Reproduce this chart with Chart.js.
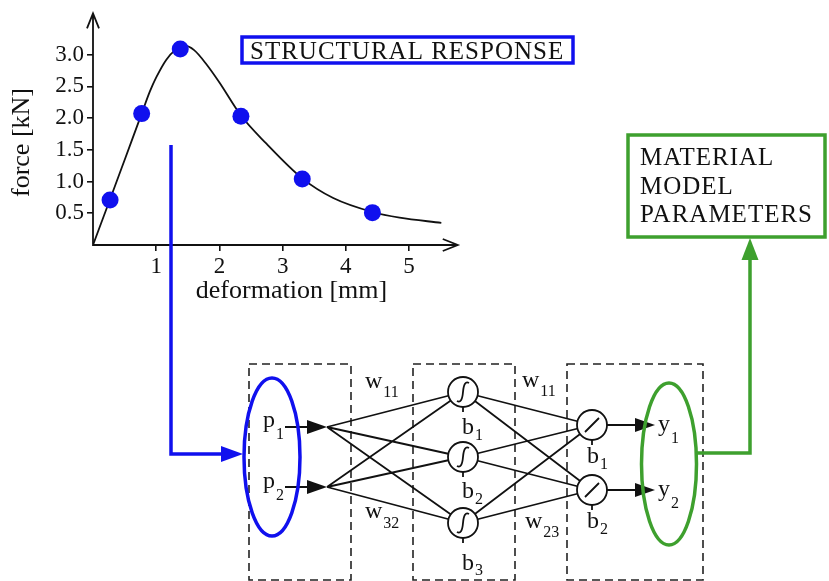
<!DOCTYPE html>
<html>
<head>
<meta charset="utf-8">
<script src="https://cdn.jsdelivr.net/npm/chart.js@4.4.1/dist/chart.umd.min.js"></script>
<style>
  html, body { margin: 0; padding: 0; background: #fff; }
  canvas { display: block; }
</style>
</head>
<body>
<canvas id="myChart" width="829" height="581"></canvas>
<script>
// measured response: deformation [mm] / force [kN]
var pointX = [0.27, 0.77, 1.38, 2.34, 3.31, 4.42];
var pointY = [0.71, 2.07, 3.09, 2.03, 1.04, 0.51];

// curve drawn through the measurements
var curveX = [0, 0.27, 0.5, 0.77, 0.9, 1.0, 1.16, 1.3, 1.45, 1.6, 1.8, 2.0, 2.34, 2.74, 3.31, 3.8, 4.42, 4.85, 5.51];
var curveY = [0, 0.72, 1.34, 2.07, 2.42, 2.64, 2.92, 3.07, 3.14, 3.07, 2.84, 2.56, 2.04, 1.6, 1.05, 0.74, 0.52, 0.43, 0.35];

var tickX = [1, 2, 3, 4, 5];
var tickY = [0.5, 1.0, 1.5, 2.0, 2.5, 3.0];

// where the axis arrows end (data units)
var xAxisEnd = 5.77;
var yAxisEnd = 3.65;

var SERIF = "'Liberation Serif', 'Times New Roman', serif";
var BLUE = '#1010ee';
var GREEN = '#3ea02e';
var INK = '#111';

Chart.defaults.font.family = SERIF;
Chart.defaults.color = INK;

function arrowHead(ctx, x, y, ux, uy, len, half, color) {
    var bx = x - ux * len, by = y - uy * len;
    ctx.beginPath();
    ctx.moveTo(x, y);
    ctx.lineTo(bx - uy * half, by + ux * half);
    ctx.lineTo(bx + uy * half, by - ux * half);
    ctx.closePath();
    ctx.fillStyle = color;
    ctx.fill();
}

function subLabel(ctx, main, sub, x, y, subDy) {
    ctx.font = '24px ' + SERIF;
    ctx.fillText(main, x, y);
    var w = ctx.measureText(main).width;
    ctx.font = '16px ' + SERIF;
    ctx.fillText(sub, x + w + 1, y + subDy);
}

var whiteBg = {
    id: 'whiteBg',
    beforeDraw: function (chart) {
        var ctx = chart.ctx;
        ctx.save();
        ctx.fillStyle = '#fff';
        ctx.fillRect(0, 0, chart.width, chart.height);
        ctx.restore();
    }
};

var axesArrows = {
    id: 'axesArrows',
    beforeDatasetsDraw: function (chart) {
        var sx = chart.scales.x, sy = chart.scales.y, ctx = chart.ctx;
        var x0 = sx.getPixelForValue(0), y0 = sy.getPixelForValue(0);
        var xEnd = sx.getPixelForValue(xAxisEnd), yEnd = sy.getPixelForValue(yAxisEnd);
        ctx.save();
        ctx.strokeStyle = INK;
        ctx.lineWidth = 1.8;
        ctx.beginPath();
        ctx.moveTo(x0, yEnd);
        ctx.lineTo(x0, y0);
        ctx.lineTo(xEnd, y0);
        ctx.moveTo(x0 - 6, yEnd + 15);
        ctx.lineTo(x0, yEnd);
        ctx.lineTo(x0 + 6, yEnd + 15);
        ctx.moveTo(xEnd - 15, y0 - 6);
        ctx.lineTo(xEnd, y0);
        ctx.lineTo(xEnd - 15, y0 + 6);
        ctx.stroke();
        ctx.restore();
    }
};

// the neural network sketch around the plot
var network = {
    id: 'network',
    afterDraw: function (chart) {
        var ctx = chart.ctx;
        var inY = [427, 487], inTip = 327;
        var hidX = 463, hidY = [392, 457, 523];
        var outX = 592, outY = [425, 490];
        var r = 15;
        ctx.save();
        ctx.textAlign = 'left';
        ctx.textBaseline = 'alphabetic';

        // structural response box
        ctx.strokeStyle = BLUE;
        ctx.lineWidth = 3.5;
        ctx.strokeRect(242, 37, 331, 26);
        ctx.fillStyle = INK;
        ctx.font = '25px ' + SERIF;
        ctx.letterSpacing = '1px';
        ctx.fillText('STRUCTURAL RESPONSE', 250, 59);

        // material model parameters box
        ctx.strokeStyle = GREEN;
        ctx.lineWidth = 3.5;
        ctx.strokeRect(628, 135, 197, 102);
        ctx.fillText('MATERIAL', 640, 165);
        ctx.fillText('MODEL', 640, 194);
        ctx.fillText('PARAMETERS', 640, 222);
        ctx.letterSpacing = '0px';

        // blue connector plot -> inputs
        ctx.strokeStyle = BLUE;
        ctx.lineWidth = 3.5;
        ctx.beginPath();
        ctx.moveTo(171, 145);
        ctx.lineTo(171, 454);
        ctx.lineTo(224, 454);
        ctx.stroke();
        arrowHead(ctx, 243, 454, 1, 0, 22, 8, BLUE);

        // dashed layer boxes
        ctx.strokeStyle = '#222';
        ctx.lineWidth = 1.6;
        ctx.setLineDash([8, 5]);
        ctx.strokeRect(249, 364, 102, 216);
        ctx.strokeRect(413, 364, 102, 216);
        ctx.strokeRect(567, 364, 136, 216);
        ctx.setLineDash([]);

        // connections
        ctx.strokeStyle = INK;
        ctx.lineWidth = 1.8;
        ctx.beginPath();
        inY.forEach(function (y) {
            hidY.forEach(function (h) {
                ctx.moveTo(inTip, y);
                ctx.lineTo(hidX, h);
            });
        });
        hidY.forEach(function (h) {
            outY.forEach(function (o) {
                ctx.moveTo(hidX, h);
                ctx.lineTo(outX, o);
            });
        });
        inY.forEach(function (y) {
            ctx.moveTo(285, y);
            ctx.lineTo(312, y);
        });
        outY.forEach(function (o) {
            ctx.moveTo(outX + r, o);
            ctx.lineTo(640, o);
        });
        ctx.stroke();
        inY.forEach(function (y) { arrowHead(ctx, inTip, y, 1, 0, 20, 7, INK); });
        outY.forEach(function (o) { arrowHead(ctx, 655, o, 1, 0, 20, 7, INK); });

        // neurons
        function neuron(cx, cy, sigmoid) {
            ctx.beginPath();
            ctx.arc(cx, cy, r, 0, Math.PI * 2);
            ctx.fillStyle = '#fff';
            ctx.fill();
            ctx.stroke();
            ctx.beginPath();
            if (sigmoid) {
                ctx.moveTo(cx - 6, cy + 9);
                ctx.quadraticCurveTo(cx - 1, cy + 12, cx, cy);
                ctx.quadraticCurveTo(cx + 1, cy - 12, cx + 6, cy - 9);
            } else {
                ctx.moveTo(cx - 7, cy + 7);
                ctx.lineTo(cx + 7, cy - 7);
            }
            ctx.moveTo(cx, cy + r);
            ctx.lineTo(cx, cy + r + 5);
            ctx.stroke();
        }
        hidY.forEach(function (h) { neuron(hidX, h, true); });
        outY.forEach(function (o) { neuron(outX, o, false); });

        // ellipses
        ctx.lineWidth = 3.5;
        ctx.strokeStyle = BLUE;
        ctx.beginPath();
        ctx.ellipse(272, 457, 28, 79, 0, 0, Math.PI * 2);
        ctx.stroke();
        ctx.strokeStyle = GREEN;
        ctx.beginPath();
        ctx.ellipse(669, 464, 27.5, 81, 0, 0, Math.PI * 2);
        ctx.stroke();

        // green connector outputs -> parameters
        ctx.beginPath();
        ctx.moveTo(697, 453);
        ctx.lineTo(750, 453);
        ctx.lineTo(750, 258);
        ctx.stroke();
        arrowHead(ctx, 750, 238, 0, -1, 22, 8.5, GREEN);

        // labels
        ctx.fillStyle = INK;
        subLabel(ctx, 'p', '1', 263, 427, 12);
        subLabel(ctx, 'p', '2', 263, 488, 12);
        subLabel(ctx, 'w', '11', 365, 388, 9);
        subLabel(ctx, 'w', '32', 365, 518, 10);
        subLabel(ctx, 'w', '11', 522, 387, 9);
        subLabel(ctx, 'w', '23', 525, 528, 9);
        subLabel(ctx, 'b', '1', 462, 434, 6);
        subLabel(ctx, 'b', '2', 462, 498, 6);
        subLabel(ctx, 'b', '3', 462, 570, 5);
        subLabel(ctx, 'b', '1', 587, 463, 6);
        subLabel(ctx, 'b', '2', 587, 528, 6);
        subLabel(ctx, 'y', '1', 658, 431, 12);
        subLabel(ctx, 'y', '2', 658, 496, 12);
        ctx.restore();
    }
};

var curveData = curveX.map(function (x, i) { return {x: x, y: curveY[i]}; });
var pointData = pointX.map(function (x, i) { return {x: x, y: pointY[i]}; });

var ctx = document.getElementById('myChart').getContext('2d');
var chart = new Chart(ctx, {
    type: 'scatter',
    data: {
        datasets: [{
            label: 'curve',
            data: curveData,
            showLine: true,
            borderColor: INK,
            borderWidth: 1.8,
            pointRadius: 0,
            cubicInterpolationMode: 'monotone',
            fill: false,
            order: 2
        }, {
            label: 'measurements',
            data: pointData,
            pointRadius: 8.5,
            pointBackgroundColor: BLUE,
            pointBorderWidth: 0,
            order: 1
        }]
    },
    options: {
        responsive: false,
        animation: false,
        devicePixelRatio: 1,
        layout: {
            padding: {left: 0, top: 40, right: 339, bottom: 274}
        },
        plugins: {
            legend: {display: false},
            tooltip: {enabled: false}
        },
        scales: {
            x: {
                type: 'linear',
                min: 0,
                max: 6.28,
                border: {display: false},
                grid: {drawOnChartArea: false, drawTicks: true, tickLength: 6, color: INK, lineWidth: 1.6},
                ticks: {font: {size: 23}, color: INK, padding: 2},
                afterBuildTicks: function (s) { s.ticks = tickX.map(function (v) { return {value: v}; }); },
                afterFit: function (s) { s.height = 62; },
                title: {display: true, text: 'deformation [mm]', font: {size: 26}, color: INK, padding: {top: 0, bottom: 0}}
            },
            y: {
                type: 'linear',
                min: 0,
                max: 3.23,
                border: {display: false},
                grid: {drawOnChartArea: false, drawTicks: true, tickLength: 6, color: INK, lineWidth: 1.6},
                ticks: {
                    font: {size: 23}, color: INK, padding: 3,
                    callback: function (v) { return v.toFixed(1); }
                },
                afterBuildTicks: function (s) { s.ticks = tickY.map(function (v) { return {value: v}; }); },
                afterFit: function (s) { s.width = 93; },
                title: {display: true, text: 'force [kN]', font: {size: 26}, color: INK, padding: {top: 7, bottom: 0}}
            }
        }
    },
    plugins: [whiteBg, axesArrows, network]
});
</script>
</body>
</html>
